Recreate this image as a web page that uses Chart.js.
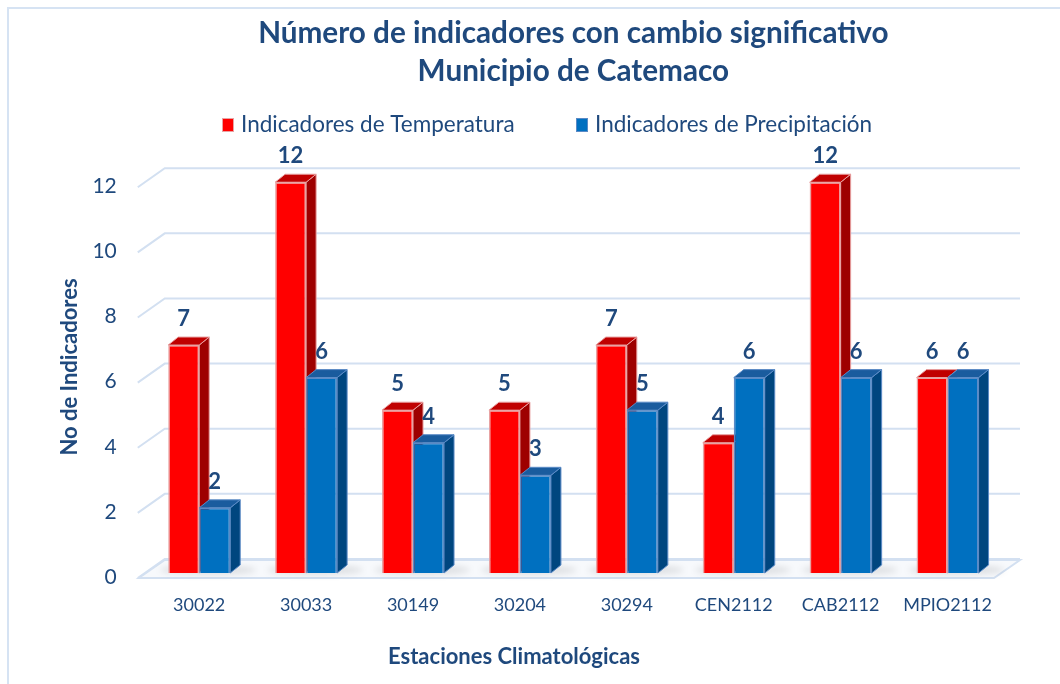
<!DOCTYPE html>
<html>
<head>
<meta charset="utf-8">
<script src="https://cdn.jsdelivr.net/npm/chart.js@4/dist/chart.umd.min.js"></script>
<style>
  html, body { margin: 0; padding: 0; background: #fff; }
  #wrap { width: 1060px; height: 684px; position: relative; }
</style>
</head>
<body>
<div id="wrap"><canvas id="chart"></canvas></div>
<script>
const estaciones = ['30022', '30033', '30149', '30204', '30294', 'CEN2112', 'CAB2112', 'MPIO2112'];
const temperatura = [7, 12, 5, 5, 7, 4, 12, 6];
const precipitacion = [2, 6, 4, 3, 5, 6, 6, 6];
const yTicks = [0, 2, 4, 6, 8, 10, 12];

const azul = '#1F497D';
const gridColor = '#D3E0F1';
const tituloX = 'Estaciones Climatológicas';
const tituloY = 'No de Indicadores';

// caras laterales y superiores de cada serie
const caras = [
  { side: '#9E0000', top: '#C00000', edge: '#E8A0A0' },
  { side: '#00467F', top: '#1A5C9E', edge: '#5A8AC6' }
];
const DX = 10, DY = 8;

const fondo3d = {
  id: 'fondo3d',
  beforeDraw(chart) {
    const { ctx, chartArea, scales } = chart;
    const y = scales.y;
    const l = chartArea.left, r = chartArea.right;
    ctx.save();
    // marco
    ctx.strokeStyle = '#D6E3F3';
    ctx.lineWidth = 2;
    ctx.strokeRect(8, 8, 1100, 700);
    // piso
    const y0 = y.getPixelForValue(0);
    ctx.fillStyle = '#F7F9FC';
    ctx.beginPath();
    ctx.moveTo(l - 7, y0 + 5);
    ctx.lineTo(l + 19, y0 - 13);
    ctx.lineTo(r + 19, y0 - 13);
    ctx.lineTo(r - 7, y0 + 5);
    ctx.closePath();
    ctx.fill();
    ctx.strokeStyle = gridColor;
    ctx.lineWidth = 2;
    ctx.stroke();
    // lineas de la cuadricula
    yTicks.forEach(v => {
      const p = y.getPixelForValue(v);
      ctx.beginPath();
      ctx.moveTo(l - 8, p + 5);
      ctx.lineTo(l + 19, p - 14);
      ctx.lineTo(r + 19, p - 14);
      ctx.stroke();
    });
    // leyenda
    ctx.font = '22.5px Lato, sans-serif';
    ctx.textBaseline = 'middle';
    ctx.textAlign = 'left';
    const ly = 125;
    const items = [
      { x: 222, text: chart.data.datasets[0].label, color: '#FF0000', edge: '#E8A3A3' },
      { x: 576, text: chart.data.datasets[1].label, color: '#0070C0', edge: '#5A8AC6' }
    ];
    items.forEach(it => {
      ctx.fillStyle = it.color;
      ctx.fillRect(it.x, ly - 7, 12, 14);
      ctx.strokeStyle = it.edge;
      ctx.lineWidth = 1;
      ctx.strokeRect(it.x + 0.5, ly - 6.5, 11, 13);
      ctx.fillStyle = azul;
      ctx.fillText(it.text, it.x + 19, ly);
    });
    // titulos de los ejes
    ctx.font = 'bold 22px Lato, sans-serif';
    ctx.textAlign = 'center';
    ctx.fillText(tituloX, 514, 657);
    ctx.translate(70, 367);
    ctx.rotate(-Math.PI / 2);
    ctx.fillText(tituloY, 0, 0);
    ctx.restore();
  },
  beforeDatasetsDraw(chart) {
    const { ctx } = chart;
    ctx.save();
    // sombras en el piso
    chart.getDatasetMeta(1).data.forEach((bar, i) => {
      const red = chart.getDatasetMeta(0).data[i];
      const x0 = red.x - red.width / 2, x1 = bar.x + bar.width / 2 + DX;
      ctx.fillStyle = 'rgba(0,0,0,0.10)';
      ctx.filter = 'blur(3px)';
      ctx.beginPath();
      ctx.ellipse((x0 + x1) / 2 + 4, bar.base - 3, (x1 - x0) / 2 + 12, 5, 0, 0, Math.PI * 2);
      ctx.fill();
      ctx.filter = 'none';
    });
    [0, 1].forEach(d => {
      const c = caras[d];
      chart.getDatasetMeta(d).data.forEach(bar => {
        const xr = bar.x + bar.width / 2, xl = bar.x - bar.width / 2;
        const top = bar.y, base = bar.base;
        ctx.lineWidth = 1;
        ctx.strokeStyle = c.edge;
        // lateral
        ctx.fillStyle = c.side;
        ctx.beginPath();
        ctx.moveTo(xr, base);
        ctx.lineTo(xr + DX, base - DY);
        ctx.lineTo(xr + DX, top - DY);
        ctx.lineTo(xr, top);
        ctx.closePath();
        ctx.fill();
        ctx.stroke();
        // superior
        ctx.fillStyle = c.top;
        ctx.beginPath();
        ctx.moveTo(xl, top);
        ctx.lineTo(xl + DX, top - DY);
        ctx.lineTo(xr + DX, top - DY);
        ctx.lineTo(xr, top);
        ctx.closePath();
        ctx.fill();
        ctx.stroke();
      });
    });
    ctx.restore();
  },
  afterDatasetsDraw(chart) {
    const { ctx } = chart;
    ctx.save();
    ctx.font = 'bold 22px Lato, "Open Sans", sans-serif';
    ctx.fillStyle = azul;
    ctx.textAlign = 'center';
    ctx.textBaseline = 'middle';
    [0, 1].forEach(d => {
      const vals = chart.data.datasets[d].data;
      chart.getDatasetMeta(d).data.forEach((bar, i) => {
        ctx.fillText(String(vals[i]), bar.x, bar.y - 26);
      });
    });
    ctx.restore();
  }
};

new Chart(document.getElementById('chart'), {
  type: 'bar',
  data: {
    labels: estaciones,
    datasets: [
      {
        label: 'Indicadores de Temperatura',
        data: temperatura,
        backgroundColor: '#FF0000',
        borderColor: '#E8A3A3',
        borderWidth: 1.5,
        categoryPercentage: 0.58,
        barPercentage: 1
      },
      {
        label: 'Indicadores de Precipitación',
        data: precipitacion,
        backgroundColor: '#0070C0',
        borderColor: '#5A8AC6',
        borderWidth: 1.5,
        categoryPercentage: 0.58,
        barPercentage: 1
      }
    ]
  },
  options: {
    responsive: true,
    maintainAspectRatio: false,
    animation: false,
    layout: { padding: { left: 92.4, right: 59, top: 0, bottom: 68.4 } },
    plugins: {
      title: {
        display: true,
        fullSize: false,
        text: ['Número de indicadores con cambio significativo', 'Municipio de Catemaco'],
        color: azul,
        font: { family: 'Lato', size: 29.7, weight: 'bold', lineHeight: 1.3 },
        padding: { top: 14, bottom: 91 }
      },
      legend: { display: false },
      tooltip: { enabled: false }
    },
    scales: {
      x: {
        grid: { display: false, drawTicks: true, tickLength: 21 },
        border: { display: false },
        ticks: { color: azul, font: { family: 'Lato', size: 18 }, padding: 0 }
      },
      y: {
        min: 0,
        max: 12,
        grid: { display: false, drawTicks: true, tickLength: 29 },
        border: { display: false },
        afterBuildTicks(axis) { axis.ticks = yTicks.map(v => ({ value: v })); },
        ticks: { color: azul, font: { family: 'Lato', size: 21 }, padding: 0, labelOffset: 4 }
      }
    }
  },
  plugins: [fondo3d]
});
</script>
</body>
</html>
